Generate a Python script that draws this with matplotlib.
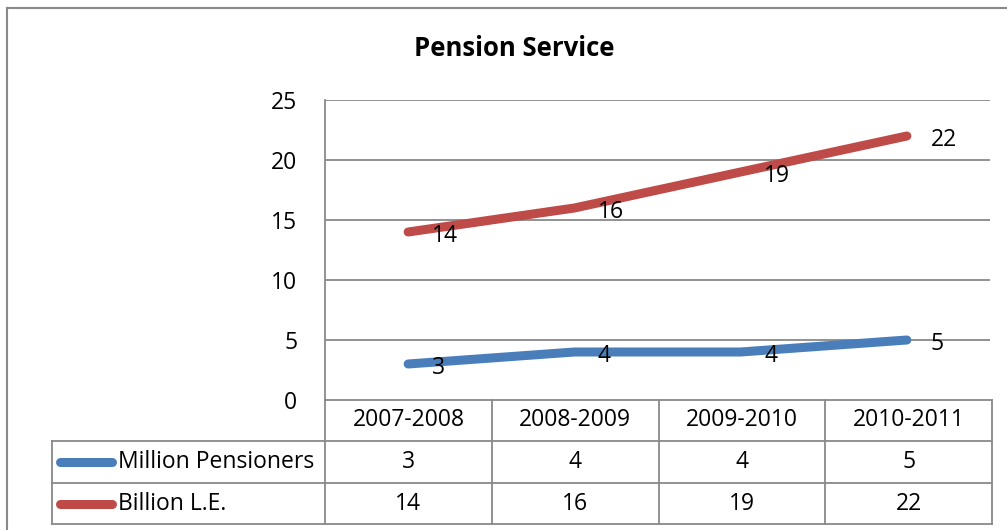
import matplotlib
matplotlib.use("Agg")
import matplotlib.pyplot as plt
from matplotlib.lines import Line2D

categories = ["2007-2008", "2008-2009", "2009-2010", "2010-2011"]
million_pensioners = [3, 4, 4, 5]
billion_le = [14, 16, 19, 22]
series_names = ["Million Pensioners", "Billion L.E."]
title = "Pension Service"
yticks = [0, 5, 10, 15, 20, 25]

BLUE = "#4A7EBB"
RED = "#BE4B48"
GRID = "#898989"
FONT = "Open Sans"
FS = 16.5

W, H = 1007, 530
fig = plt.figure(figsize=(W / 100, H / 100), dpi=100)

def fx(px):
    return px / W

def fy(py):
    return 1 - py / H

# figure border (left and top visible)
fig.add_artist(Line2D([fx(7), fx(7)], [fy(8), 0], color=GRID, lw=1.5))
fig.add_artist(Line2D([fx(7), 1], [fy(8), fy(8)], color=GRID, lw=1.5))

# title
fig.text(fx(514), fy(49), title, ha="center", va="center", fontsize=18.5,
         fontweight="bold", family=FONT)

# main axes
L, R, T, B = 325, 990, 100, 400
ax = fig.add_axes([fx(L), fy(B), fx(R) - fx(L), fy(T) - fy(B)])
ax.set_xlim(-0.5, len(categories) - 0.5)
ax.set_ylim(0, 25)
ax.set_yticks(yticks)
ax.set_yticklabels([str(v) for v in yticks], fontsize=FS, family=FONT)
ax.tick_params(axis="y", length=0, pad=20)
ax.set_xticks([])
for s in ["top", "right", "bottom"]:
    ax.spines[s].set_visible(False)
ax.spines["left"].set_color(GRID)
ax.spines["left"].set_linewidth(1.3)
for v in yticks[1:]:
    ax.axhline(v, color=GRID, lw=1.3, zorder=1)

x = list(range(len(categories)))
for vals, col in [(million_pensioners, BLUE), (billion_le, RED)]:
    ax.plot(x, vals, color=col, lw=6.5, solid_capstyle="round",
            solid_joinstyle="round", zorder=3)
    for xi, v in zip(x, vals):
        ax.annotate(str(v), (xi, v), xytext=(17, -3), textcoords="offset points",
                    ha="left", va="center", fontsize=FS, family=FONT, zorder=4)

# data table
TL, TR = 52, 992
rows_y = [400, 441, 483, 524]
cw = (TR - L) / len(categories)
col_x = [L + i * cw for i in range(len(categories) + 1)]
lw_t = 1.3
fig.add_artist(Line2D([fx(L), fx(TR)], [fy(rows_y[0])] * 2, color=GRID, lw=lw_t))
for ry in rows_y[1:]:
    fig.add_artist(Line2D([fx(TL), fx(TR)], [fy(ry)] * 2, color=GRID, lw=lw_t))
for cx in col_x:
    fig.add_artist(Line2D([fx(cx)] * 2, [fy(rows_y[0]), fy(rows_y[-1])], color=GRID, lw=lw_t))
fig.add_artist(Line2D([fx(TL)] * 2, [fy(rows_y[1]), fy(rows_y[-1])], color=GRID, lw=lw_t))

for i, c in enumerate(categories):
    fig.text(fx(col_x[i] + cw / 2), fy((rows_y[0] + rows_y[1]) / 2), c,
             ha="center", va="center", fontsize=FS, family=FONT)

for r, (name, vals, col) in enumerate([(series_names[0], million_pensioners, BLUE),
                                       (series_names[1], billion_le, RED)]):
    yc = (rows_y[r + 1] + rows_y[r + 2]) / 2
    fig.add_artist(Line2D([fx(60), fx(112)], [fy(yc)] * 2, color=col, lw=6.5,
                          solid_capstyle="round"))
    fig.text(fx(118), fy(yc), name, ha="left", va="center", fontsize=FS, family=FONT)
    for i, v in enumerate(vals):
        fig.text(fx(col_x[i] + cw / 2), fy(yc), str(v), ha="center", va="center",
                 fontsize=FS, family=FONT)

fig.savefig("out.png", dpi=100)
